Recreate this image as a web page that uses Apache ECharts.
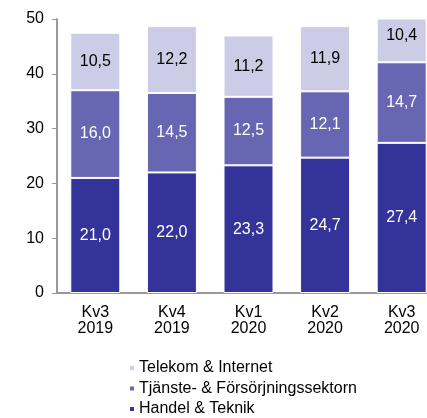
<!DOCTYPE html>
<html>
<head>
<meta charset="utf-8">
<script src="https://cdn.jsdelivr.net/npm/echarts@6/dist/echarts.min.js"></script>
<style>
  html, body { margin: 0; padding: 0; background: #fff; overflow: hidden; }
  #chart-container { width: 440px; height: 418px; }
</style>
</head>
<body>
<div id="chart-container"></div>
<script>
var categories = ["Kv3\n2019", "Kv4\n2019", "Kv1\n2020", "Kv2\n2020", "Kv3\n2020"];
var handel = [21.0, 22.0, 23.3, 24.7, 27.4];
var tjanste = [16.0, 14.5, 12.5, 12.1, 14.7];
var telekom = [10.5, 12.2, 11.2, 11.9, 10.4];
var yTicks = [0, 10, 20, 30, 40, 50];

var font = "Liberation Sans, Arial, sans-serif";

function fmt(p) {
  return p.value.toFixed(1).replace(".", ",");
}

function barSeries(name, data, color, textColor) {
  return {
    name: name,
    type: "bar",
    stack: "total",
    data: data,
    barWidth: 50,
    itemStyle: { color: color, borderColor: "#fff", borderWidth: 1 },
    label: {
      show: true,
      position: "inside",
      formatter: fmt,
      color: textColor,
      fontSize: 16,
      fontFamily: font,
    },
  };
}

// container is a bit wider than the window, the last bar gets cut at the edge like in the original
var dom = document.getElementById("chart-container");
var myChart = echarts.init(dom, null, { renderer: "canvas" });

var topSeries = barSeries("Telekom & Internet", telekom, "#ccccE6", "#000");
// last bar is clipped at 50, the original keeps its label where the full segment would be
topSeries.data = telekom.map(function (v, i) {
  if (i === telekom.length - 1) return { value: v, label: { offset: [0, -5] } };
  return v;
});

var option = {
  animation: false,
  grid: { left: 57, top: 19, height: 274, right: 0 },
  legend: {
    orient: "vertical",
    left: 128,
    top: 360,
    padding: 0,
    height: 70,
    itemWidth: 6,
    itemHeight: 6,
    itemGap: 4.5,
    icon: "rect",
    data: ["Telekom & Internet", "Tjänste- & Försörjningssektorn", "Handel & Teknik"],
    textStyle: { fontSize: 16, fontFamily: font, color: "#000", lineHeight: 16, padding: [0, 0, 0, -1] },
  },
  xAxis: {
    type: "category",
    data: categories,
    axisLine: { lineStyle: { color: "#999", width: 2 } },
    axisTick: { show: false },
    axisLabel: { color: "#000", fontSize: 16, fontFamily: font, lineHeight: 16, margin: 12 },
  },
  yAxis: {
    type: "value",
    min: yTicks[0],
    max: yTicks[yTicks.length - 1],
    interval: 10,
    splitLine: { show: false },
    axisLine: { show: true, lineStyle: { color: "#999", width: 2 } },
    axisTick: { show: true, length: 5, lineStyle: { color: "#999" } },
    axisLabel: { color: "#000", fontSize: 16, fontFamily: font, margin: 13 },
  },
  series: [
    barSeries("Handel & Teknik", handel, "#333399", "#fff"),
    barSeries("Tjänste- & Försörjningssektorn", tjanste, "#6666b3", "#fff"),
    topSeries,
  ],
};

myChart.setOption(option);
window.addEventListener("resize", myChart.resize);
</script>
</body>
</html>
